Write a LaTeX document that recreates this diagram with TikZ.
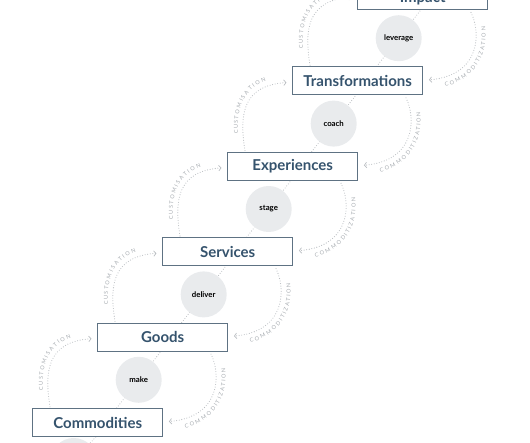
\documentclass[tikz,border=0pt]{standalone}
\usepackage{fontspec}
\setmainfont{Lato}
\usetikzlibrary{arrows.meta,decorations.text,calc,backgrounds}
\definecolor{boxline}{HTML}{5E7283}
\definecolor{boxtext}{HTML}{35536D}
\definecolor{dotgray}{HTML}{B9BDC1}
\definecolor{labgray}{HTML}{A6ABB0}
\definecolor{circfill}{HTML}{E9EBED}
\newcommand\arclabfont{\fontsize{5.5}{6}\selectfont\color{labgray}}
\begin{document}
\begin{tikzpicture}[x=1pt,y=1pt,
  stagebox/.style={draw=boxline, line width=1.1pt, fill=white, minimum width=130pt,
    minimum height=28pt, inner sep=0pt, text=boxtext, font=\fontsize{15}{17}\selectfont\bfseries},
  actcirc/.style={circle, fill=circfill, minimum size=46pt, inner sep=0pt,
    font=\fontsize{7.8}{9}\selectfont\bfseries},
  dotline/.style={dotgray, line width=1.1pt, dash pattern=on 0pt off 2.6pt, line cap=round},
  tipstyle/.style={-{Straight Barb[length=2.3pt,width=5.5pt,line width=0.7pt]}},
  leftlab/.style={decorate, decoration={text along path, text={|\arclabfont|CUSTOMISATION},
    text align={left indent=17pt, right indent=19pt, fit to path}, raise=5pt}},
  rightlab/.style={decorate, decoration={text along path, text={|\arclabfont|COMMODITIZATION},
    text align={left indent=14pt, right indent=16pt, fit to path}, raise=-9.5pt}},
]
\useasboundingbox (0,0) rectangle (530,442);
\clip (0,0) rectangle (530,442);

% stage boxes
\foreach \t [count=\i from 0] in {Commodities, Goods, Services, Experiences, Transformations}
  \node[stagebox] (b\i) at ({97.7+65*\i},{19.5+85.4*\i}) {\t};
\node[stagebox, label={[text=boxtext, font=\fontsize{15}{17}\selectfont\bfseries, yshift=-3pt]center:Impact}]
  (b5) at ({97.7+65*5},{19.5+85.4*5}) {};

% activity circles
\foreach \a [count=\i from 1] in {make, deliver, stage, coach, leverage}
  \node[actcirc] (a\i) at ($(b\i.center)+(-24,-42.7)$) {\a};
\node[actcirc] (a0) at ($(b0.center)+(-24,-38.5)$) {};

\begin{scope}[on background layer]
  \foreach \i/\j in {0/1,1/2,2/3,3/4,4/5} {
    % dotted link through the activity circle
    \draw[dotline] ($(b\i.north)+(19,0)$) -- ($(b\j.south)+(-2,0)$);
    % left arc: customisation
    \draw[dotline,tipstyle] ($(b\i.center)+(-47.7,15.7)$)
      .. controls ($(b\i.center)+(-53.7,52.7)$) and ($(b\i.center)+(-49.7,80.7)$) ..
      ($(b\j.west)+(-5.7,-1.6)$);
    \path[leftlab] ($(b\i.center)+(-47.7,15.7)$)
      .. controls ($(b\i.center)+(-53.7,52.7)$) and ($(b\i.center)+(-49.7,80.7)$) ..
      ($(b\j.west)+(-5.7,-1.6)$);
    % right arc: commoditization
    \draw[dotline,tipstyle] ($(b\j.center)+(48.3,-17)$)
      .. controls ($(b\j.center)+(58.3,-37)$) and ($(b\j.center)+(58.3,-80)$) ..
      ($(b\i.east)+(5.7,1)$);
    \path[rightlab] ($(b\i.east)+(5.7,1)$)
      .. controls ($(b\j.center)+(58.3,-80)$) and ($(b\j.center)+(58.3,-37)$) ..
      ($(b\j.center)+(48.3,-17)$);
  }
  \draw[dotline] ($(b0.south)+(-2,0)$) -- (a0);
\end{scope}
\end{tikzpicture}
\end{document}
